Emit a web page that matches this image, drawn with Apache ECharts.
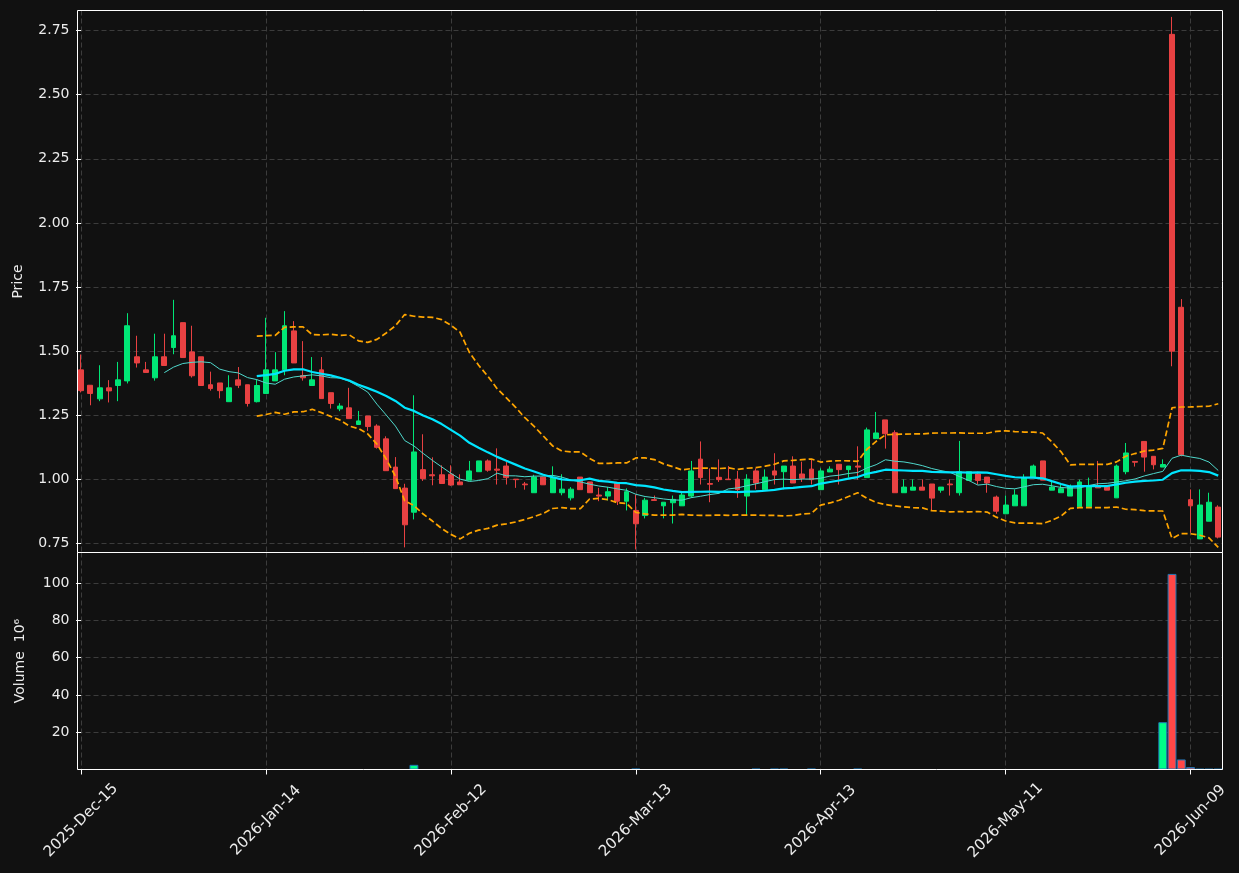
<!DOCTYPE html>
<html>
<head>
<meta charset="utf-8">
<script src="https://cdn.jsdelivr.net/npm/echarts@6.0.0/dist/echarts.min.js"></script>
<style>
html,body{margin:0;padding:0;background:#111111;}
#chart{width:1239px;height:873px;}
</style>
</head>
<body>
<div id="chart"></div>
<script>
// ---- data ----
const dates = ['2025-Dec-15','2025-Dec-16','2025-Dec-17','2025-Dec-18','2025-Dec-19','2025-Dec-22','2025-Dec-23','2025-Dec-24','2025-Dec-26','2025-Dec-29','2025-Dec-30','2025-Dec-31',
'2026-Jan-02','2026-Jan-05','2026-Jan-06','2026-Jan-07','2026-Jan-08','2026-Jan-09','2026-Jan-12','2026-Jan-13','2026-Jan-14',
'2026-Jan-15','2026-Jan-16','2026-Jan-20','2026-Jan-21','2026-Jan-22','2026-Jan-23','2026-Jan-26','2026-Jan-27','2026-Jan-28','2026-Jan-29','2026-Jan-30',
'2026-Feb-02','2026-Feb-03','2026-Feb-04','2026-Feb-05','2026-Feb-06','2026-Feb-09','2026-Feb-10','2026-Feb-11','2026-Feb-12',
'2026-Feb-13','2026-Feb-17','2026-Feb-18','2026-Feb-19','2026-Feb-20','2026-Feb-23','2026-Feb-24','2026-Feb-25','2026-Feb-26','2026-Feb-27',
'2026-Mar-02','2026-Mar-03','2026-Mar-04','2026-Mar-05','2026-Mar-06','2026-Mar-09','2026-Mar-10','2026-Mar-11','2026-Mar-12','2026-Mar-13',
'2026-Mar-16','2026-Mar-17','2026-Mar-18','2026-Mar-19','2026-Mar-20','2026-Mar-23','2026-Mar-24','2026-Mar-25','2026-Mar-26','2026-Mar-27',
'2026-Mar-30','2026-Mar-31','2026-Apr-01','2026-Apr-02','2026-Apr-06','2026-Apr-07','2026-Apr-08','2026-Apr-09','2026-Apr-10','2026-Apr-13',
'2026-Apr-14','2026-Apr-15','2026-Apr-16','2026-Apr-17','2026-Apr-20','2026-Apr-21','2026-Apr-22','2026-Apr-23','2026-Apr-24',
'2026-Apr-27','2026-Apr-28','2026-Apr-29','2026-Apr-30','2026-May-01','2026-May-04','2026-May-05','2026-May-06','2026-May-07','2026-May-08','2026-May-11',
'2026-May-12','2026-May-13','2026-May-14','2026-May-15','2026-May-18','2026-May-19','2026-May-20','2026-May-21','2026-May-22',
'2026-May-26','2026-May-27','2026-May-28','2026-May-29','2026-Jun-01','2026-Jun-02','2026-Jun-03','2026-Jun-04','2026-Jun-05','2026-Jun-08','2026-Jun-09',
'2026-Jun-10','2026-Jun-11','2026-Jun-12'];

const opens = [1.427,1.367,1.314,1.357,1.366,1.384,1.478,1.427,1.396,1.478,
1.514,1.611,1.497,1.478,1.369,1.376,1.303,1.388,1.369,1.303,
1.335,1.384,1.427,1.579,1.405,1.366,1.427,1.338,1.275,1.279,
1.214,1.247,1.208,1.158,1.048,0.966,0.872,1.038,1.018,1.018,
1.020,0.990,0.997,1.030,1.072,1.040,1.052,1.001,0.982,0.948,
1.009,0.948,0.948,0.928,1.009,0.990,0.939,0.935,0.987,0.915,
0.879,0.859,0.921,0.897,0.909,0.897,0.935,1.079,0.984,1.008,
1.001,1.001,0.935,1.033,0.960,1.033,1.030,1.052,1.021,1.040,
0.960,1.029,1.059,1.038,1.052,1.007,1.159,1.232,1.182,0.948,
0.958,0.970,0.982,0.958,0.982,0.948,0.996,1.021,1.009,0.931,
0.866,0.897,0.897,1.007,1.072,0.958,0.948,0.935,0.893,0.893,
0.973,0.973,0.928,1.030,1.070,1.148,1.090,1.048,2.735,1.671,
0.921,0.768,0.837,0.892];

const highs = [1.487,1.367,1.445,1.387,1.458,1.648,1.560,1.458,1.568,1.568,
1.700,1.611,1.599,1.478,1.420,1.376,1.406,1.438,1.369,1.390,
1.630,1.496,1.656,1.617,1.539,1.477,1.477,1.338,1.297,1.357,
1.267,1.247,1.215,1.168,1.087,0.983,1.328,1.176,1.086,1.055,
1.055,1.020,1.072,1.072,1.078,1.121,1.068,1.001,0.990,1.018,
1.009,1.051,1.020,0.970,1.009,0.990,0.967,0.970,0.987,0.965,
0.941,0.928,0.937,0.911,0.937,0.948,1.072,1.148,1.043,1.078,
1.052,1.033,1.020,1.043,1.039,1.102,1.052,1.090,1.069,1.079,
1.043,1.051,1.059,1.052,1.129,1.202,1.263,1.232,1.191,1.000,
1.000,1.000,0.982,0.970,1.000,1.150,1.030,1.030,1.009,0.937,
0.937,0.961,1.020,1.058,1.072,0.993,0.980,0.980,0.999,1.007,
1.072,0.973,1.058,1.142,1.070,1.148,1.090,1.078,2.803,1.703,
0.961,0.961,0.948,0.899];

const lows = [1.339,1.289,1.305,1.300,1.305,1.374,1.436,1.417,1.385,1.444,
1.488,1.475,1.397,1.366,1.346,1.316,1.303,1.356,1.284,1.300,
1.335,1.384,1.406,1.454,1.385,1.366,1.315,1.276,1.266,1.237,
1.214,1.189,1.120,1.034,0.964,0.735,0.844,0.994,0.977,0.984,
0.975,0.979,0.997,1.030,1.030,0.980,0.980,0.967,0.960,0.948,
0.979,0.948,0.938,0.918,0.960,0.948,0.915,0.918,0.900,0.879,
0.727,0.848,0.918,0.848,0.828,0.897,0.928,0.980,0.911,0.990,
0.999,0.928,0.858,0.961,0.960,0.980,0.961,0.986,0.990,0.980,
0.960,1.029,0.980,1.007,0.999,1.007,1.159,1.120,0.948,0.948,
0.958,0.958,0.879,0.948,0.937,0.937,0.996,0.980,0.948,0.866,
0.866,0.897,0.897,1.007,0.997,0.958,0.948,0.935,0.893,0.893,
0.967,0.958,0.928,1.020,1.050,1.030,1.039,1.048,1.441,1.090,
0.792,0.768,0.837,0.770];

const closes = [1.346,1.335,1.357,1.345,1.388,1.599,1.454,1.417,1.478,1.444,
1.560,1.475,1.404,1.366,1.354,1.346,1.357,1.367,1.296,1.366,
1.427,1.427,1.599,1.454,1.396,1.388,1.315,1.296,1.286,1.237,
1.228,1.206,1.125,1.034,0.964,0.823,1.107,1.003,1.014,0.984,
0.978,0.979,1.033,1.072,1.036,1.036,1.007,0.999,0.979,1.009,
0.979,1.009,0.962,0.962,0.960,0.948,0.935,0.952,0.915,0.952,
0.827,0.919,0.918,0.911,0.922,0.939,1.033,1.007,0.981,0.999,
0.999,0.960,1.001,0.986,1.009,1.017,1.052,0.986,1.004,0.999,
1.033,1.040,1.038,1.052,1.048,1.193,1.181,1.178,0.948,0.970,
0.970,0.958,0.927,0.970,0.979,1.030,1.030,0.996,0.986,0.876,
0.900,0.939,1.005,1.052,0.997,0.970,0.964,0.973,0.990,0.973,
0.967,0.958,1.052,1.103,1.067,1.087,1.057,1.058,1.500,1.096,
0.897,0.900,0.911,0.775];

// volume in millions (0 = too small to see in the picture)
const volumes = [0,0,0,0,0,0,0,0,0,0,
0,0,0,0,0,0,0,0,0,0,
0,0,0,0,0,0,0,0,0,0,
0,0,0,0,0,0,2.5,0,0,0,
0,0,0,0,0,0,0,0,0,0,
0,0,0,0,0,0,0,0,0,0,
0.4,0,0,0,0,0,0,0,0,0,
0,0,0,0.4,0,0.4,0.4,0,0,0.4,
0,0,0,0,0.4,0,0,0,0,0,
0,0,0,0,0,0,0,0,0,0,
0,0,0,0,0,0,0,0,0,0,
0,0,0,0,0,0,0,25.4,105.0,5.4,
1.3,0.3,0.3,0.3];

const priceTicks = [0.75,1.00,1.25,1.50,1.75,2.00,2.25,2.50,2.75];
const volumeTicks = [20,40,60,80,100];
const dateTickIdx = [0,20,40,60,80,100,120];

// ---- derived indicators (rolling mean / Bollinger bands of the closes) ----
function sma(arr, n){
  return arr.map((v,i)=> i < n-1 ? null : arr.slice(i-n+1,i+1).reduce((a,b)=>a+b,0)/n);
}
function bands(arr, n, k){
  const up=[], lo=[];
  arr.forEach((v,i)=>{
    if(i < n-1){up.push(null);lo.push(null);return;}
    const w = arr.slice(i-n+1,i+1);
    const m = w.reduce((a,b)=>a+b,0)/n;
    const sd = Math.sqrt(w.reduce((a,b)=>a+(b-m)*(b-m),0)/(n-1));
    up.push(m+k*sd); lo.push(m-k*sd);
  });
  return [up, lo];
}
const ma10 = sma(closes,10);
const ma20 = sma(closes,20);
const [bbUp, bbLo] = bands(closes,20,2);

const UP='#00e676', DOWN='#e84142', VUP='#00ff88', VDOWN='#ff4747';
const FONT='DejaVu Sans', TXT='#ececec';

const candleData = dates.map((d,i)=>[i, opens[i], closes[i], lows[i], highs[i]]);
const pair = arr => arr.map((v,i)=>[i, v]);
const volData = volumes.map((v,i)=>({value:[i,v], itemStyle:{
  color: closes[i] >= opens[i] ? VUP : VDOWN,
  borderWidth: v > 0 ? 1 : 0}}));

const splitLineStyle = {show:true, lineStyle:{color:'#3c3c3c', type:[5,3], width:1}};
const xMin = -0.39, xMax = 123.46;

const chart = echarts.init(document.getElementById('chart'), null, {renderer:'canvas'});
chart.setOption({
  backgroundColor:'#111111',
  animation:false,
  textStyle:{fontFamily:FONT},
  grid:[
    {left:77.5, right:16.5, top:10.5, height:542, show:true, borderColor:'#ffffff', borderWidth:1, backgroundColor:'transparent', z:5},
    {left:77.5, right:16.5, top:552.5, height:217, show:true, borderColor:'#ffffff', borderWidth:1, backgroundColor:'transparent', z:5}
  ],
  xAxis:[
    {type:'value', gridIndex:0, min:xMin, max:xMax,
     axisLine:{show:false}, axisLabel:{show:false},
     axisTick:{show:false, customValues:dateTickIdx},
     splitLine:splitLineStyle},
    {type:'value', gridIndex:1, min:xMin, max:xMax,
     axisLine:{show:false},
     axisTick:{show:true, customValues:dateTickIdx, length:5, lineStyle:{color:'#ffffff'}},
     axisLabel:{show:true, customValues:dateTickIdx, rotate:45, margin:51, align:'center', verticalAlign:'middle',
       color:TXT, fontSize:15, fontFamily:FONT,
       formatter:v=>dates[Math.round(v)]},
     splitLine:splitLineStyle}
  ],
  yAxis:[
    {type:'value', gridIndex:0, min:0.715, max:2.828,
     name:'Price', nameLocation:'middle', nameRotate:90, nameGap:52,
     nameTextStyle:{color:TXT, fontSize:14, fontFamily:FONT},
     axisLine:{show:false},
     axisTick:{show:true, customValues:priceTicks, length:5, lineStyle:{color:'#ffffff'}},
     axisLabel:{show:true, customValues:priceTicks, color:TXT, fontSize:14, fontFamily:FONT, margin:8,
       formatter:v=>v.toFixed(2)},
     splitLine:splitLineStyle},
    {type:'value', gridIndex:1, min:0, max:116.5,
     name:'Volume  10\u2076', nameLocation:'middle', nameRotate:90, nameGap:50,
     nameTextStyle:{color:TXT, fontSize:14, fontFamily:FONT},
     axisLine:{show:false},
     axisTick:{show:true, customValues:volumeTicks, length:5, lineStyle:{color:'#ffffff'}},
     axisLabel:{show:true, customValues:volumeTicks, color:TXT, fontSize:14, fontFamily:FONT, margin:8},
     splitLine:splitLineStyle}
  ],
  series:[
    {type:'candlestick', xAxisIndex:0, yAxisIndex:0, data:candleData, encode:{x:0, y:[1,2,3,4]},
     barWidth:'58%',
     itemStyle:{color:UP, color0:DOWN, borderColor:UP, borderColor0:DOWN, borderWidth:1}},
    {type:'line', xAxisIndex:0, yAxisIndex:0, data:pair(ma10), showSymbol:false,
     lineStyle:{color:'#4fd8cc', width:1}, z:3},
    {type:'line', xAxisIndex:0, yAxisIndex:0, data:pair(ma20), showSymbol:false,
     lineStyle:{color:'#00e5ff', width:2.2}, z:3},
    {type:'line', xAxisIndex:0, yAxisIndex:0, data:pair(bbUp), showSymbol:false,
     lineStyle:{color:'#ffa500', width:1.7, type:[6,3]}, z:3},
    {type:'line', xAxisIndex:0, yAxisIndex:0, data:pair(bbLo), showSymbol:false,
     lineStyle:{color:'#ffa500', width:1.7, type:[6,3]}, z:3},
    {type:'bar', xAxisIndex:1, yAxisIndex:1, data:volData, barWidth:'96%',
     itemStyle:{borderColor:'#1f77b4', borderWidth:1}}
  ]
});
</script>
</body>
</html>
